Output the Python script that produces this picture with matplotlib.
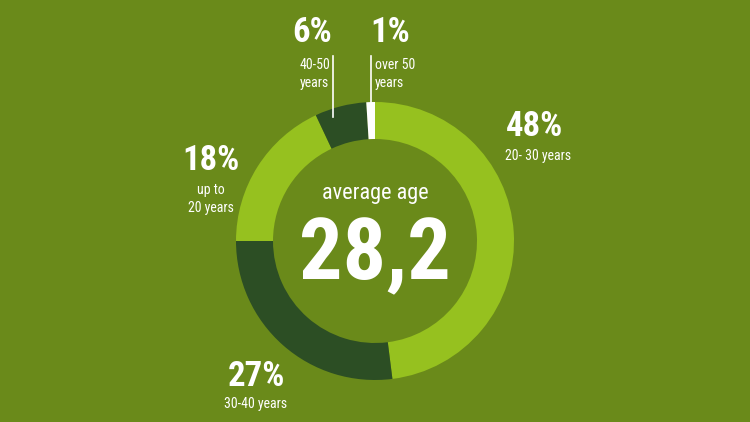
import matplotlib.pyplot as plt
from matplotlib import font_manager

# age groups, clockwise from 12 o'clock
groups = ["20- 30 years", "30-40 years", "up to\n20 years", "40-50\nyears", "over 50\nyears"]
shares = [48, 27, 18, 6, 1]
share_labels = ["48%", "27%", "18%", "6%", "1%"]
average_age = "28,2"

bg = "#6a8a1a"
light = "#96c11f"
dark = "#2c4e24"
colors = [light, dark, light, dark, "white"]

names = {f.name for f in font_manager.fontManager.ttflist}
fam = "DejaVu Sans"
for cand in ["Liberation Sans Narrow", "Roboto Condensed", "DejaVu Sans"]:
    if cand in names:
        fam = cand
        break

W, H = 750, 422
fig = plt.figure(figsize=(7.5, 4.22), dpi=100, facecolor=bg)
ax = fig.add_axes([0, 0, 1, 1])

cx, cy, r = 375, H - 241, 139
ax.pie(shares, colors=colors, startangle=90, counterclock=False,
       center=(cx, cy), radius=r, frame=True,
       wedgeprops=dict(width=37, linewidth=0))
ax.set_xlim(0, W)
ax.set_ylim(0, H)
ax.set_aspect("auto")
ax.axis("off")

kw = dict(color="white", family=fam, fontstretch="condensed")

def y(v):
    return H - v

# big numbers in the middle
ax.text(cx, y(193), "average age", fontsize=16, ha="center", va="center", **kw)
ax.text(cx, y(256), average_age, fontsize=62, weight="bold", ha="center", va="center", **kw)

# 48%
ax.text(506, y(127), share_labels[0], fontsize=25, weight="bold", ha="left", va="center", **kw)
ax.text(505, y(156), groups[0], fontsize=10, ha="left", va="center", **kw)
# 27%
ax.text(256, y(377), share_labels[1], fontsize=25, weight="bold", ha="center", va="center", **kw)
ax.text(256, y(404), groups[1], fontsize=10, ha="center", va="center", **kw)
# 18%
ax.text(211, y(161), share_labels[2], fontsize=25, weight="bold", ha="center", va="center", **kw)
ax.text(211, y(199), groups[2], fontsize=10, ha="center", va="center",
        linespacing=1.3, **kw)
# 6%
ax.text(312, y(33), share_labels[3], fontsize=25, weight="bold", ha="center", va="center", **kw)
ax.text(300, y(74), groups[3], fontsize=10, ha="left", va="center",
        linespacing=1.3, **kw)
# 1%
ax.text(390, y(33), share_labels[4], fontsize=25, weight="bold", ha="center", va="center", **kw)
ax.text(375, y(74), groups[4], fontsize=10, ha="left", va="center",
        linespacing=1.3, **kw)

# leader lines
ax.plot([333, 333], [y(56), y(117)], color="white", lw=1.2)
ax.plot([370.5, 370.5], [y(56), y(104)], color="white", lw=1.2)

fig.savefig("out.png", dpi=100, facecolor=bg)
